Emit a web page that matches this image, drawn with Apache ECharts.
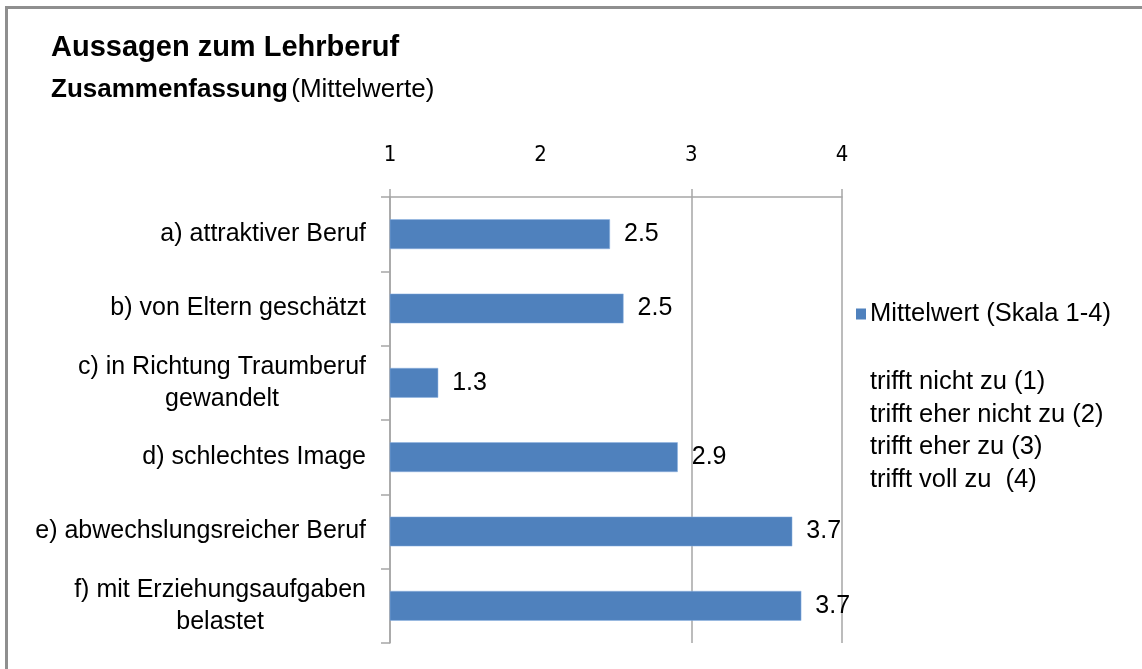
<!DOCTYPE html>
<html>
<head>
<meta charset="utf-8">
<title>Aussagen zum Lehrberuf</title>
<script src="https://cdn.jsdelivr.net/npm/echarts@6/dist/echarts.min.js"></script>
<style>
  html, body { margin: 0; padding: 0; background: #fff; }
  #chart { width: 1142px; height: 669px; }
  /* grey frame at the top and left edge */
  .frame {
    position: absolute; left: 5px; top: 6px; right: 0; bottom: 0;
    border-top: 3px solid #8f8f8f; border-left: 3px solid #8f8f8f;
    pointer-events: none;
  }
</style>
</head>
<body>
<div id="chart"></div>
<div class="frame"></div>
<script>
const categories = [
  'a) attraktiver Beruf',
  'b) von Eltern geschätzt',
  'c) in Richtung Traumberuf\ngewandelt',
  'd) schlechtes Image',
  'e) abwechslungsreicher Beruf',
  'f) mit Erziehungsaufgaben\nbelastet'
]
const values = [2.46, 2.55, 1.32, 2.91, 3.67, 3.73]
const tickLabels = [1, 2, 3, 4]
const tickMarks = [1, 3, 4]
const scaleNotes = [
  'trifft nicht zu (1)',
  'trifft eher nicht zu (2)',
  'trifft eher zu (3)',
  'trifft voll zu  (4)'
]

const chart = echarts.init(document.getElementById('chart'))

const option = {
  animation: false,
  textStyle: { fontFamily: 'Liberation Sans, Arial, sans-serif' },
  title: [
    {
      text: 'Aussagen zum Lehrberuf',
      subtext: '{b|Zusammenfassung} {n|(Mittelwerte)}',
      left: 46,
      top: 28,
      itemGap: 15,
      textStyle: { fontSize: 29, fontWeight: 'bold', color: '#000' },
      subtextStyle: {
        rich: {
          b: { fontSize: 26, fontWeight: 'bold', color: '#000' },
          n: { fontSize: 26, color: '#000' }
        }
      }
    },
    {
      text: scaleNotes.join('\n'),
      left: 865,
      top: 361,
      textStyle: { fontSize: 25.5, fontWeight: 'normal', color: '#000', lineHeight: 32.5 }
    }
  ],
  legend: {
    data: ['Mittelwert (Skala 1-4)'],
    left: 851,
    top: 296,
    itemWidth: 10,
    itemHeight: 11,
    itemGap: 6,
    itemStyle: { borderWidth: 0 },
    textStyle: { fontSize: 25.5, color: '#000', padding: [0, 0, 0, -1] },
    icon: 'rect'
  },
  grid: { left: 390, top: 197, width: 452, height: 446 },
  xAxis: {
    type: 'value',
    position: 'top',
    min: 1,
    max: 4,
    interval: 1,
    axisLine: { show: true, lineStyle: { color: '#a6a6a6', width: 1.5 } },
    axisTick: {
      show: true,
      length: 8,
      customValues: tickMarks,
      lineStyle: { color: '#a6a6a6', width: 1.5 }
    },
    axisLabel: {
      customValues: tickLabels,
      margin: 31,
      fontFamily: 'Liberation Sans Narrow, DejaVu Sans Condensed, sans-serif',
      fontSize: 22,
      color: '#000'
    },
    splitLine: { show: true, lineStyle: { color: '#a6a6a6', width: 1.5 } }
  },
  yAxis: {
    type: 'category',
    inverse: true,
    data: categories,
    axisLine: { show: true, lineStyle: { color: '#a6a6a6', width: 1.5 } },
    axisTick: { show: true, length: 9, lineStyle: { color: '#a6a6a6', width: 1.5 } },
    axisLabel: {
      margin: 24,
      fontSize: 25,
      color: '#000',
      lineHeight: 32,
      formatter: (v) => v.split('\n').map((s) => '{c|' + s + '}').join('\n'),
      rich: { c: { fontSize: 25, color: '#000', align: 'center', lineHeight: 32 } }
    }
  },
  series: [
    {
      name: 'Mittelwert (Skala 1-4)',
      type: 'bar',
      data: values,
      barWidth: '40%',
      clip: true,
      itemStyle: { color: '#4f81bd', borderColor: '#8db3e2', borderWidth: 0.5 },
      label: {
        show: true,
        position: 'right',
        distance: 14,
        fontSize: 25,
        color: '#000',
        formatter: (p) => p.value.toFixed(1)
      }
    }
  ]
}

chart.setOption(option)
</script>
</body>
</html>
